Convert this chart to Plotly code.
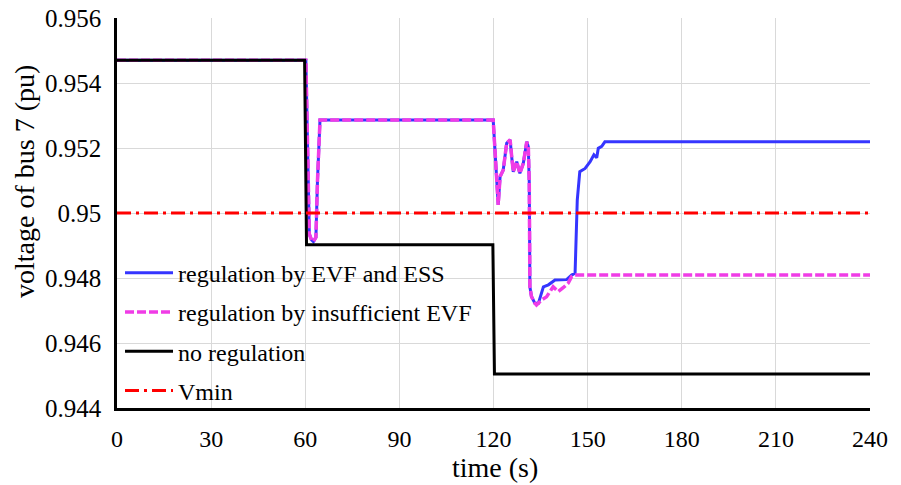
import plotly.graph_objects as go

# time (s) and bus-7 voltage (pu) samples
# shared trajectory of both regulated cases up to the trough
common_t = [0, 60.2, 61.3, 62.0, 62.6, 63.4, 63.9, 64.7, 119.9, 120.6, 121.5, 122.1,
            123.1, 124.2, 125.3, 125.8, 126.3, 127.4, 128.4, 129.5, 130.6, 131.1,
            131.4, 131.6, 132.1, 133.2]
common_v = [0.95470, 0.95470, 0.94935, 0.94917, 0.94912, 0.94925, 0.95100, 0.95286,
            0.95286, 0.95180, 0.95025, 0.95112, 0.95132, 0.95215, 0.95225, 0.95173,
            0.95127, 0.95158, 0.95122, 0.95153, 0.95219, 0.95204, 0.95091, 0.94773,
            0.94743, 0.94722]

# EVF + ESS recovery
ess_t = [134.3, 135.9, 137.5, 139.6, 143.3, 144.9, 146.0, 146.7, 147.5, 149.2, 150.8,
         152.0, 152.9, 153.4, 154.5, 155.5, 240]
ess_v = [0.94722, 0.94773, 0.94779, 0.94794, 0.94795, 0.94809, 0.94815, 0.95040,
         0.95127, 0.95137, 0.95158, 0.95179, 0.95170, 0.95199, 0.95205, 0.95219, 0.95219]

# insufficient EVF recovery
evf_t = [133.7, 135.3, 136.9, 139.0, 140.6, 142.2, 143.8, 144.9, 146.0, 240]
evf_v = [0.94717, 0.94732, 0.94742, 0.94773, 0.94758, 0.94770, 0.94784, 0.94804,
         0.94809, 0.94809]

# no regulation
none_t = [0, 59.8, 60.4, 119.8, 120.3, 240]
none_v = [0.95470, 0.95470, 0.94902, 0.94902, 0.94505, 0.94505]

vmin_t = [0, 240]
vmin_v = [0.95, 0.95]

x_ticks = [0, 30, 60, 90, 120, 150, 180, 210, 240]
y_ticks = [0.944, 0.946, 0.948, 0.95, 0.952, 0.954, 0.956]
y_tick_text = ["0.944", "0.946", "0.948", "0.95", "0.952", "0.954", "0.956"]

names = ["regulation by EVF and ESS", "regulation by insufficient EVF",
         "no regulation", "Vmin"]

FONT = "Liberation Serif"

fig = go.Figure()
fig.add_trace(go.Scatter(x=common_t + ess_t, y=common_v + ess_v, mode="lines",
                         name=names[0], legendgroup="a",
                         line=dict(color="#3535FF", width=3)))
fig.add_trace(go.Scatter(x=common_t + evf_t, y=common_v + evf_v, mode="lines",
                         name=names[1], legendgroup="b",
                         line=dict(color="#F03CE6", width=3.5, dash="9px,3px")))
fig.add_trace(go.Scatter(x=none_t, y=none_v, mode="lines", name=names[2],
                         legendgroup="c", line=dict(color="black", width=3)))
fig.add_trace(go.Scatter(x=vmin_t, y=vmin_v, mode="lines", name=names[3],
                         legendgroup="d",
                         line=dict(color="#FF0000", width=3, dash="14px,5px,3px,5px")))

fig.update_layout(
    width=901, height=485,
    margin=dict(l=117, r=31, t=18, b=77),
    paper_bgcolor="white", plot_bgcolor="white",
    font=dict(family=FONT, color="black", size=24),
    showlegend=True,
    legend=dict(x=0.004, y=-0.012, xanchor="left", yanchor="bottom",
                bgcolor="rgba(0,0,0,0)", borderwidth=0,
                font=dict(family=FONT, size=24, color="black"),
                itemwidth=48, tracegroupgap=5, traceorder="grouped"),
    xaxis=dict(range=[0, 240], tickvals=x_ticks, showgrid=True,
               gridcolor="#D9D9D9", gridwidth=1, zeroline=False,
               showline=True, linecolor="black", linewidth=2.5, automargin=False,
               ticks="", tickfont=dict(family=FONT, size=24), ticklabelstandoff=7),
    yaxis=dict(range=[0.944, 0.956], tickvals=y_ticks, ticktext=y_tick_text,
               showgrid=True, gridcolor="#D9D9D9", gridwidth=1, zeroline=False,
               showline=True, linecolor="black", linewidth=2.5, automargin=False,
               ticks="", tickfont=dict(family=FONT, size=25), ticklabelstandoff=8),
    annotations=[
        dict(text="voltage of bus 7 (pu)", textangle=-90,
             xref="paper", yref="paper", x=-0.122, y=0.58,
             xanchor="center", yanchor="middle", showarrow=False,
             font=dict(family=FONT, size=28, color="black")),
        dict(text="time (s)", xref="paper", yref="paper", x=0.502, y=-0.152,
             xanchor="center", yanchor="middle", showarrow=False,
             font=dict(family=FONT, size=28, color="black")),
    ],
)

fig.write_html("out.html")
